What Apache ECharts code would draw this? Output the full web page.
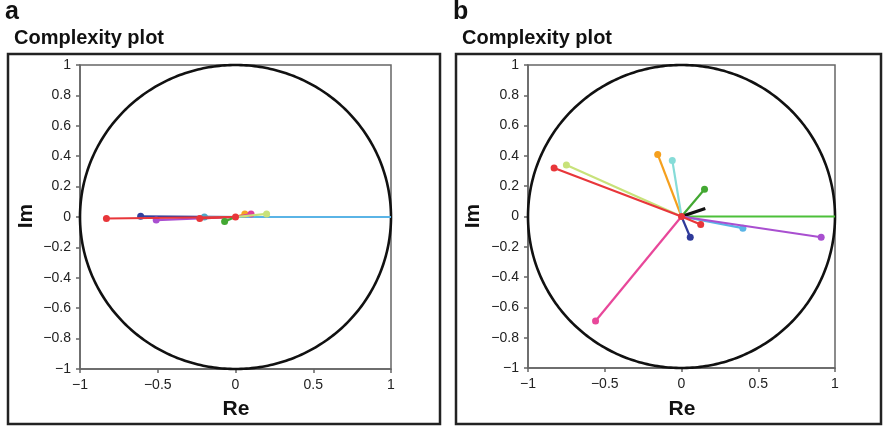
<!DOCTYPE html>
<html>
<head>
<meta charset="utf-8">
<script src="https://cdn.jsdelivr.net/npm/echarts/dist/echarts.min.js"></script>
<style>html,body{margin:0;padding:0;background:#fff}#c{width:883px;height:427px}</style>
</head>
<body>
<div id="c"></div>
<script>
// Panel a: endpoints of vectors (Re, Im)
const aNames  = ['sky','darkblue','purple','teal','red2','red','green','orange','magenta','yellowgreen','origin'];
const aRe     = [1.00, -0.61, -0.51, -0.20, -0.23, -0.83, -0.07, 0.06, 0.10, 0.20, 0.00];
const aIm     = [0.00,  0.005, -0.02, 0.00, -0.01, -0.01, -0.03, 0.02, 0.02, 0.02, 0.00];
const aColors = ['#5ab4e6','#33409e','#a94fd0','#4fa8c8','#e8363a','#e8363a','#43a832','#f5a623','#e0409a','#c8e27a','#e8363a'];
const aMarker = [false, true, true, true, true, true, true, true, true, true, true];

// Panel b
const bNames  = ['green1','pink','yellowgreen','red','orange','cyan','green2','black','darkblue','sky','purple','red2','origin'];
const bRe     = [1.00, -0.56, -0.75, -0.83, -0.155, -0.06, 0.15, 0.155, 0.057, 0.40, 0.91, 0.125, 0.00];
const bIm     = [0.00, -0.69,  0.34,  0.32,  0.41,   0.37, 0.18, 0.053, -0.137, -0.077, -0.137, -0.053, 0.00];
const bColors = ['#4cc03a','#e8479a','#c8e27a','#e8363a','#f5a01e','#86dcd8','#43a832','#111111','#2e3a9a','#5ab4e6','#a94fd0','#e8363a','#e8363a'];
const bMarker = [false, true, true, true, true, true, true, false, true, true, true, true, true];
const bWidth  = [2.2, 2.2, 2.2, 2.2, 2.2, 2.2, 2.2, 3.2, 2.2, 2.2, 2.2, 2.2, 2.2];

const xTicks = [-1, -0.5, 0, 0.5, 1];
const yTickStep = 0.2;

const FONT = 'Liberation Sans, Arial, Helvetica, sans-serif';
const fmt = v => { const s = String(parseFloat(Number(v).toFixed(2))); return s.replace('-', '\u2212'); };

function axisPair(idx) {
  const common = {
    type: 'value', min: -1, max: 1, gridIndex: idx,
    axisLine: { show: true, onZero: false, lineStyle: { color: '#666', width: 1.5 } },
    axisTick: { show: true, length: 4, lineStyle: { color: '#666', width: 1.5 } },
    splitLine: { show: false },
    axisLabel: { color: '#222', fontSize: 14, fontFamily: FONT, margin: 9, formatter: fmt }
  };
  return {
    x: Object.assign({}, common, { interval: xTicks[1] - xTicks[0] }),
    y: Object.assign({}, common, { interval: yTickStep })
  };
}
const ax0 = axisPair(0), ax1 = axisPair(1);

function circleSeries(idx) {
  return {
    type: 'custom', xAxisIndex: idx, yAxisIndex: idx, z: 1, silent: true,
    data: [[0, 0]],
    renderItem: function (params, api) {
      const c = api.coord([0, 0]);
      const rx = api.coord([1, 0])[0] - c[0];
      const ry = c[1] - api.coord([0, 1])[1];
      const pts = [];
      for (let i = 0; i <= 360; i++) {
        const t = i * Math.PI / 180;
        pts.push([c[0] + rx * Math.cos(t), c[1] - ry * Math.sin(t)]);
      }
      return { type: 'polyline', shape: { points: pts }, style: { stroke: '#111', lineWidth: 2.6, fill: null } };
    }
  };
}

function vecSeries(idx, re, im, colors, marker, widths) {
  return re.map((r, i) => ({
    type: 'line', xAxisIndex: idx, yAxisIndex: idx, z: 3 + i,
    symbol: 'circle', symbolSize: 7, showSymbol: true,
    itemStyle: { color: colors[i] },
    lineStyle: { color: colors[i], width: widths ? widths[i] : 2.2 },
    emphasis: { disabled: true },
    data: [
      { value: [0, 0], symbol: 'none' },
      { value: [r, im[i]], symbol: marker[i] ? 'circle' : 'none' }
    ]
  }));
}

const chart = echarts.init(document.getElementById('c'), null, { renderer: 'canvas' });
chart.setOption({
  animation: false,
  backgroundColor: '#fff',
  grid: [
    { left: 80, top: 65, width: 311, height: 304, show: true, borderColor: '#666', borderWidth: 1.5, backgroundColor: 'transparent' },
    { left: 528, top: 65, width: 307, height: 303, show: true, borderColor: '#666', borderWidth: 1.5, backgroundColor: 'transparent' }
  ],
  xAxis: [ax0.x, ax1.x],
  yAxis: [ax0.y, ax1.y],
  graphic: [
    { type: 'rect', shape: { x: 8, y: 54, width: 432, height: 370 }, style: { fill: null, stroke: '#222', lineWidth: 2.5 }, z: 0 },
    { type: 'rect', shape: { x: 456, y: 54, width: 425, height: 370 }, style: { fill: null, stroke: '#222', lineWidth: 2.5 }, z: 0 },
    { type: 'text', left: 5, top: 0, style: { text: 'a', font: 'bold 25px ' + FONT, fill: '#111' } },
    { type: 'text', left: 453, top: 0, style: { text: 'b', font: 'bold 25px ' + FONT, fill: '#111' } },
    { type: 'text', left: 14, top: 28, style: { text: 'Complexity plot', font: 'bold 20px ' + FONT, fill: '#111' } },
    { type: 'text', left: 462, top: 28, style: { text: 'Complexity plot', font: 'bold 20px ' + FONT, fill: '#111' } },
    { type: 'text', x: 236, y: 409, style: { text: 'Re', font: 'bold 21px ' + FONT, fill: '#111', align: 'center', verticalAlign: 'middle' } },
    { type: 'text', x: 682, y: 409, style: { text: 'Re', font: 'bold 21px ' + FONT, fill: '#111', align: 'center', verticalAlign: 'middle' } },
    { type: 'text', x: 26, y: 216, rotation: Math.PI / 2, style: { text: 'Im', font: 'bold 21px ' + FONT, fill: '#111', align: 'center', verticalAlign: 'middle' } },
    { type: 'text', x: 473, y: 216, rotation: Math.PI / 2, style: { text: 'Im', font: 'bold 21px ' + FONT, fill: '#111', align: 'center', verticalAlign: 'middle' } }
  ],
  series: [].concat(
    [circleSeries(0), circleSeries(1)],
    vecSeries(0, aRe, aIm, aColors, aMarker),
    vecSeries(1, bRe, bIm, bColors, bMarker, bWidth)
  )
});
</script>
</body>
</html>
